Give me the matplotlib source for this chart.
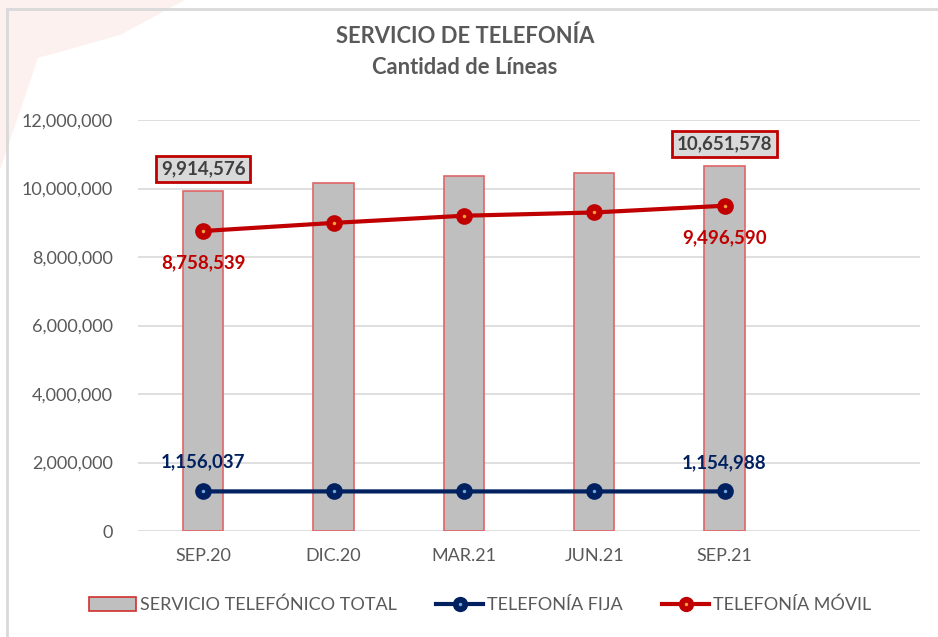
import matplotlib.pyplot as plt
from matplotlib.patches import Rectangle, Polygon
from matplotlib.lines import Line2D
import numpy as np

plt.rcParams['font.family'] = ['Lato', 'DejaVu Sans']

# Data
periodos = ['SEP.20', 'DIC.20', 'MAR.21', 'JUN.21', 'SEP.21']
total = [9914576, 10160000, 10365000, 10450000, 10651578]
fija = [1156037, 1155700, 1155400, 1155200, 1154988]
movil = [8758539, 8995000, 9205000, 9300000, 9496590]

gris = '#595959'
rojo = '#c00000'
azul = '#002060'

fig = plt.figure(figsize=(9.38, 6.37), dpi=100)

# faint decorative shape in the top-left corner
W, H = 938, 637
deco = Polygon([(0 / W, 1), (185 / W, 1), (120 / W, 1 - 35 / H), (38 / W, 1 - 58 / H),
                (0 / W, 1 - 170 / H)], closed=True, transform=fig.transFigure,
               facecolor='#fdf1ef', edgecolor='none', zorder=-10)
fig.patches.append(deco)

# chart frame (only top and left visible)
frame = Rectangle((7 / W, -0.2), 1.2, 1.2 - 9 / H, transform=fig.transFigure,
                  facecolor='none', edgecolor='#d9d9d9', linewidth=2, zorder=-5)
fig.patches.append(frame)

ax = fig.add_axes([138 / W, 1 - 531 / H, (920 - 138) / W, (531 - 120) / H])
ax.patch.set_alpha(0)

x = np.arange(len(periodos))
ax.bar(x, total, width=0.31, color='#bfbfbf', edgecolor='#e06666', linewidth=1.2, zorder=2)

# lines with dark round markers and a small light dot at the centre
for serie, col, dot in ((fija, azul, '#6fa8dc'), (movil, rojo, '#f6a13a')):
    ax.plot(x, serie, color=col, linewidth=3, marker='o', markersize=12,
            markeredgewidth=0, markerfacecolor=col, zorder=3)
    ax.plot(x, serie, linestyle='none', marker='o', markersize=2.5,
            markeredgewidth=0, markerfacecolor=dot, zorder=4)

fmt = lambda v: f'{v:,.0f}'

for i in (0, len(x) - 1):
    ax.annotate(fmt(total[i]), (x[i], total[i]), xytext=(0, 16), textcoords='offset points',
                ha='center', va='center', fontsize=13.5, fontweight='bold', color='#404040',
                bbox=dict(boxstyle='square,pad=0.25', facecolor='#d9d9d9',
                          edgecolor=rojo, linewidth=2), zorder=5)
    ax.annotate(fmt(movil[i]), (x[i], movil[i]), xytext=(0, -23), textcoords='offset points',
                ha='center', va='center', fontsize=13.5, fontweight='bold', color=rojo, zorder=5)
    ax.annotate(fmt(fija[i]), (x[i], fija[i]), xytext=(0, 21), textcoords='offset points',
                ha='center', va='center', fontsize=13.5, fontweight='bold', color=azul, zorder=5)

ax.set_xlim(-0.5, 5.5)
ax.set_ylim(0, 12000000)
ax.set_xticks(x)
ax.set_xticklabels(periodos)
ax.set_yticks(np.arange(0, 12000001, 2000000))
ax.yaxis.set_major_formatter(plt.FuncFormatter(lambda v, p: fmt(v)))
ax.tick_params(axis='both', length=0, labelsize=13, labelcolor=gris)
ax.tick_params(axis='y', pad=18)
ax.tick_params(axis='x', pad=12)
ax.grid(axis='y', color='#d9d9d9', linewidth=1.2, zorder=0)
ax.set_axisbelow(True)
for s in ax.spines.values():
    s.set_visible(False)

fig.text(465 / W, 1 - 36 / H, 'SERVICIO DE TELEFONÍA', ha='center', va='center',
         fontsize=15.8, fontweight='bold', color=gris)
fig.text(465 / W, 1 - 68 / H, 'Cantidad de Líneas', ha='center', va='center',
         fontsize=15.8, fontweight='bold', color=gris)

handles = [
    Rectangle((0, 0), 1, 1, facecolor='#bfbfbf', edgecolor='#d03030', linewidth=1.2),
    (Line2D([], [], color=azul, linewidth=3, marker='o', markersize=11, markeredgewidth=0),
     Line2D([], [], linestyle='none', marker='o', markersize=2.5, markeredgewidth=0,
            markerfacecolor='#6fa8dc')),
    (Line2D([], [], color=rojo, linewidth=3, marker='o', markersize=11, markeredgewidth=0),
     Line2D([], [], linestyle='none', marker='o', markersize=2.5, markeredgewidth=0,
            markerfacecolor='#f6a13a')),
]
labels = ['SERVICIO TELEFÓNICO TOTAL', 'TELEFONÍA FIJA', 'TELEFONÍA MÓVIL']
leg = fig.legend(handles, labels, loc='center', bbox_to_anchor=(480 / W, 1 - 605 / H),
                 ncol=3, frameon=False, fontsize=13, handlelength=2.6, handleheight=0.8,
                 handletextpad=0.2, columnspacing=2.2)
for t in leg.get_texts():
    t.set_color(gris)

fig.savefig('out.png', dpi=100)
